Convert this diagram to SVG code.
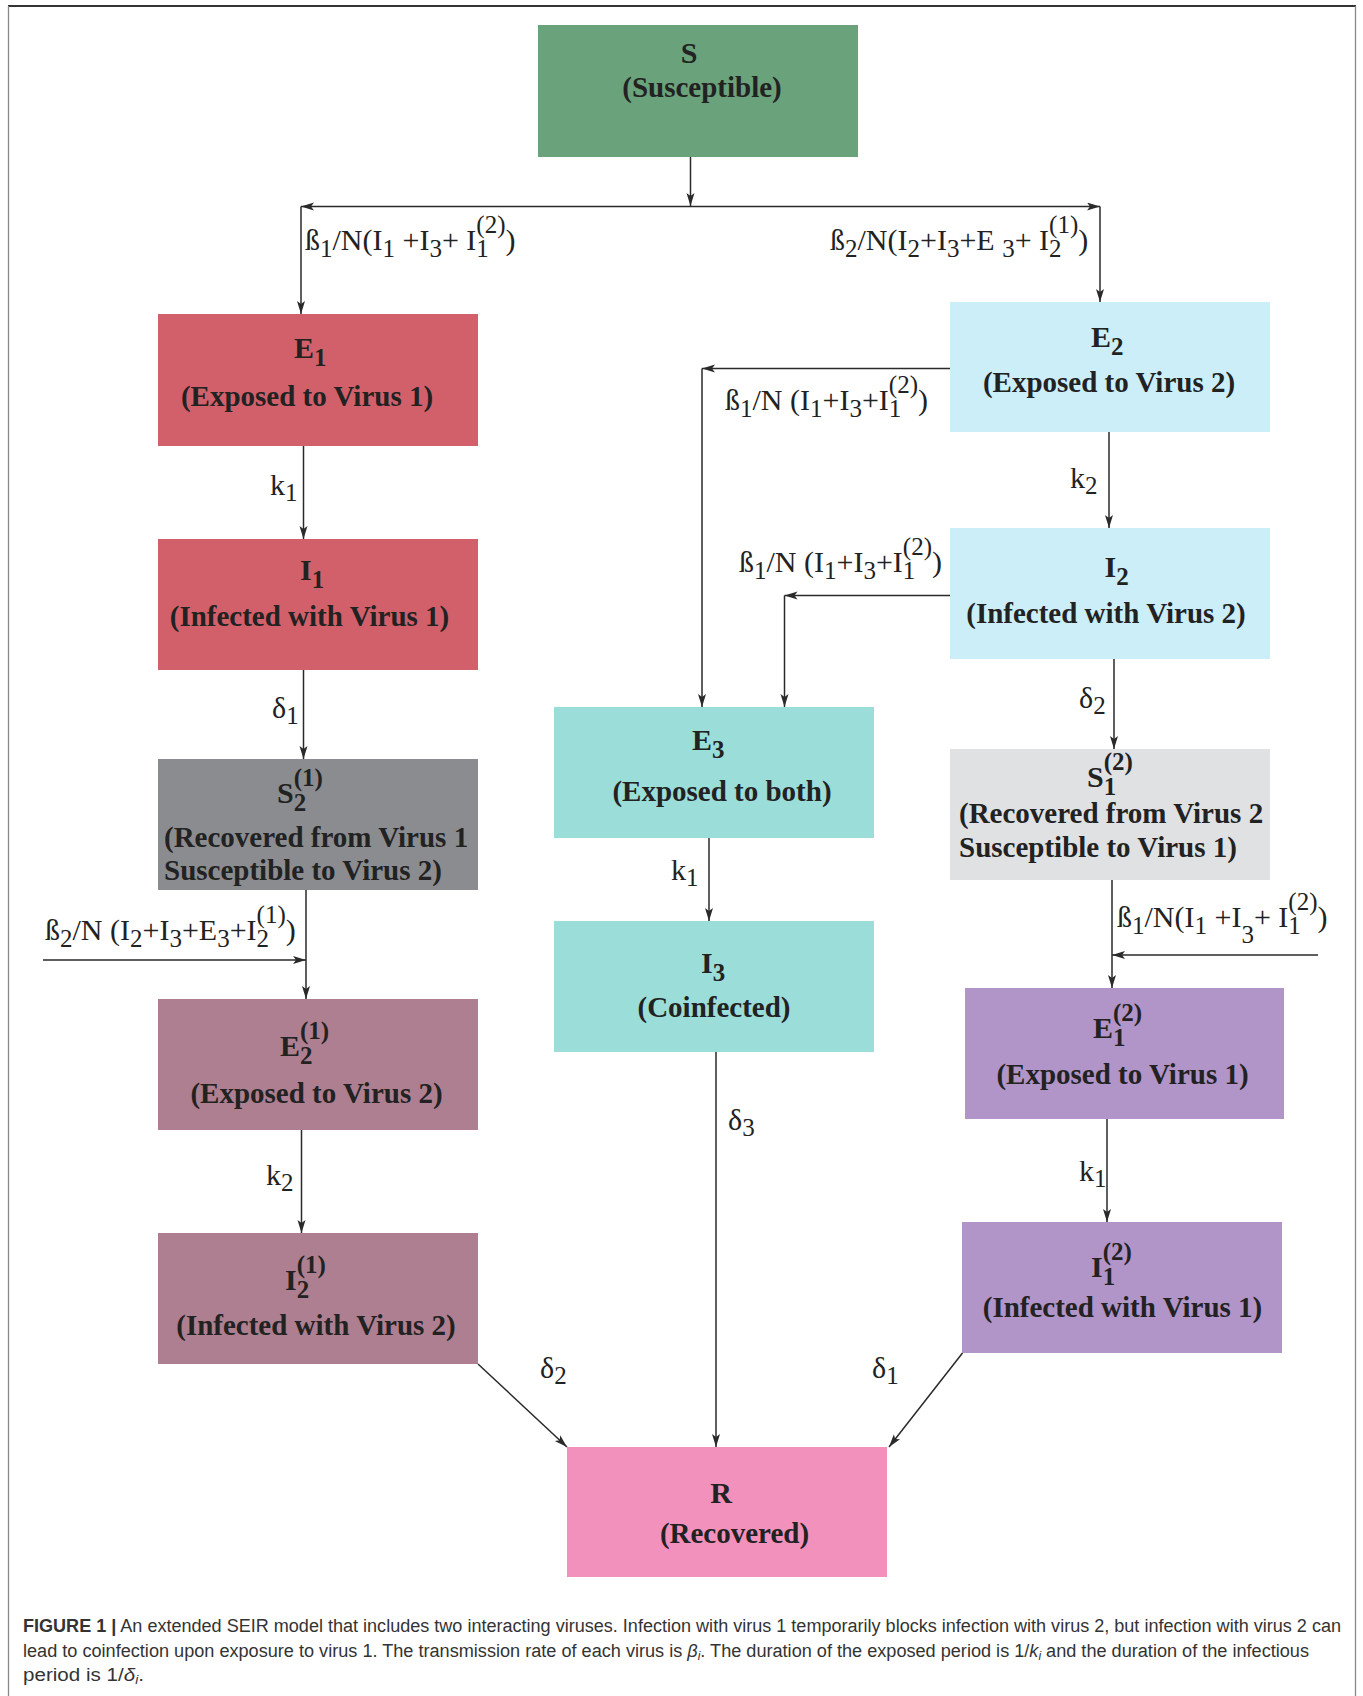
<svg xmlns="http://www.w3.org/2000/svg" width="1363" height="1696" viewBox="0 0 1363 1696">
<defs>
<marker id="ah" markerUnits="userSpaceOnUse" markerWidth="14" markerHeight="10" refX="13" refY="4" orient="auto-start-reverse">
<path d="M0,0 L13,4 L0,8 L3,4 z" fill="#2a2a2a"/>
</marker>
</defs>
<style>
.box{stroke:none}
.nt{font-family:"Liberation Serif","Times New Roman",serif;font-weight:bold;font-size:29px;fill:#222}
.sym{font-size:30px}
.ns{font-size:25px}
.lbl{font-family:"Liberation Serif","Times New Roman",serif;font-size:30px;fill:#222}
.ls{font-size:25px}
.ln{fill:none;stroke:#2a2a2a;stroke-width:1.5}
.cap{font-family:"Liberation Sans",Arial,sans-serif;font-size:18px;fill:#333}
</style>
<rect x="0" y="0" width="1363" height="1696" fill="#ffffff"/>
<g id="frame">
<line x1="8" y1="6" x2="1356" y2="6" stroke="#333" stroke-width="2"/>
<line x1="8.5" y1="6" x2="8.5" y2="1696" stroke="#888" stroke-width="1.3"/>
<line x1="1355.5" y1="6" x2="1355.5" y2="1696" stroke="#888" stroke-width="1.3"/>
</g>

<g id="connectors">
<line class="ln" x1="690.5" y1="157" x2="690.5" y2="206" marker-end="url(#ah)"/>
<line class="ln" x1="301" y1="206.5" x2="1100" y2="206.5" marker-start="url(#ah)" marker-end="url(#ah)"/>
<line class="ln" x1="301" y1="206.5" x2="301" y2="314" marker-end="url(#ah)"/>
<line class="ln" x1="1100" y1="206.5" x2="1100" y2="302" marker-end="url(#ah)"/>
<line class="ln" x1="950" y1="368.5" x2="702" y2="368.5" marker-end="url(#ah)"/>
<line class="ln" x1="702" y1="368.5" x2="702" y2="707" marker-end="url(#ah)"/>
<line class="ln" x1="303.5" y1="446" x2="303.5" y2="539" marker-end="url(#ah)"/>
<line class="ln" x1="1109" y1="432" x2="1109" y2="528" marker-end="url(#ah)"/>
<line class="ln" x1="950" y1="595.5" x2="784.5" y2="595.5" marker-end="url(#ah)"/>
<line class="ln" x1="784.5" y1="595.5" x2="784.5" y2="707" marker-end="url(#ah)"/>
<line class="ln" x1="303.5" y1="670" x2="303.5" y2="759" marker-end="url(#ah)"/>
<line class="ln" x1="1114" y1="659" x2="1114" y2="749" marker-end="url(#ah)"/>
<line class="ln" x1="709" y1="838" x2="709" y2="921" marker-end="url(#ah)"/>
<line class="ln" x1="306" y1="890" x2="306" y2="999" marker-end="url(#ah)"/>
<line class="ln" x1="43" y1="960" x2="306" y2="960" marker-end="url(#ah)"/>
<line class="ln" x1="1112" y1="880" x2="1112" y2="988" marker-end="url(#ah)"/>
<line class="ln" x1="1318" y1="955" x2="1112" y2="955" marker-end="url(#ah)"/>
<line class="ln" x1="301.5" y1="1130" x2="301.5" y2="1233" marker-end="url(#ah)"/>
<line class="ln" x1="1107" y1="1119" x2="1107" y2="1222" marker-end="url(#ah)"/>
<line class="ln" x1="716" y1="1052" x2="716" y2="1447" marker-end="url(#ah)"/>
<line class="ln" x1="478" y1="1364" x2="567" y2="1447" marker-end="url(#ah)"/>
<line class="ln" x1="962.5" y1="1353" x2="889" y2="1447" marker-end="url(#ah)"/>
</g>

<g id="edge-labels">
<text class="lbl" x="305" y="250">ß<tspan class="ls" dy="7">1</tspan><tspan dy="-7">/N(I</tspan><tspan class="ls" dy="7">1</tspan><tspan dy="-7"> +I</tspan><tspan class="ls" dy="7">3</tspan><tspan dy="-7">+ I</tspan><tspan class="ls" dy="7">1</tspan><tspan class="ls" dx="-12.5" dy="-24">(2)</tspan><tspan dy="17">)</tspan></text>
<text class="lbl" x="830" y="250">ß<tspan class="ls" dy="7">2</tspan><tspan dy="-7">/N(I</tspan><tspan class="ls" dy="7">2</tspan><tspan dy="-7">+I</tspan><tspan class="ls" dy="7">3</tspan><tspan dy="-7">+E </tspan><tspan class="ls" dy="7">3</tspan><tspan dy="-7">+ I</tspan><tspan class="ls" dy="7">2</tspan><tspan class="ls" dx="-12.5" dy="-24">(1)</tspan><tspan dy="17">)</tspan></text>
<text class="lbl" x="725" y="410">ß<tspan class="ls" dy="7">1</tspan><tspan dy="-7">/N  (I</tspan><tspan class="ls" dy="7">1</tspan><tspan dy="-7">+I</tspan><tspan class="ls" dy="7">3</tspan><tspan dy="-7">+I</tspan><tspan class="ls" dy="7">1</tspan><tspan class="ls" dx="-12.5" dy="-24">(2)</tspan><tspan dy="17">)</tspan></text>
<text class="lbl" x="739" y="572">ß<tspan class="ls" dy="7">1</tspan><tspan dy="-7">/N (I</tspan><tspan class="ls" dy="7">1</tspan><tspan dy="-7">+I</tspan><tspan class="ls" dy="7">3</tspan><tspan dy="-7">+I</tspan><tspan class="ls" dy="7">1</tspan><tspan class="ls" dx="-12.5" dy="-24">(2)</tspan><tspan dy="17">)</tspan></text>
<text class="lbl" x="45" y="940">ß<tspan class="ls" dy="7">2</tspan><tspan dy="-7">/N (I</tspan><tspan class="ls" dy="7">2</tspan><tspan dy="-7">+I</tspan><tspan class="ls" dy="7">3</tspan><tspan dy="-7">+E</tspan><tspan class="ls" dy="7">3</tspan><tspan dy="-7">+I</tspan><tspan class="ls" dy="7">2</tspan><tspan class="ls" dx="-12.5" dy="-24">(1)</tspan><tspan dy="17">)</tspan></text>
<text class="lbl" x="1117" y="927">ß<tspan class="ls" dy="7">1</tspan><tspan dy="-7">/N(I</tspan><tspan class="ls" dy="7">1</tspan><tspan dy="-7"> +I</tspan><tspan class="ls" dy="16">3</tspan><tspan dy="-16">+ I</tspan><tspan class="ls" dy="7">1</tspan><tspan class="ls" dx="-12.5" dy="-24">(2)</tspan><tspan dy="17">)</tspan></text>
<text class="lbl" x="270" y="495">k<tspan class="ls" dy="6">1</tspan></text>
<text class="lbl" x="1070" y="488">k<tspan class="ls" dy="6">2</tspan></text>
<text class="lbl" x="272" y="718">δ<tspan class="ls" dy="6">1</tspan></text>
<text class="lbl" x="1079" y="708">δ<tspan class="ls" dy="6">2</tspan></text>
<text class="lbl" x="671" y="880">k<tspan class="ls" dy="6">1</tspan></text>
<text class="lbl" x="266" y="1185">k<tspan class="ls" dy="6">2</tspan></text>
<text class="lbl" x="728" y="1130">δ<tspan class="ls" dy="6">3</tspan></text>
<text class="lbl" x="1079" y="1181">k<tspan class="ls" dy="6">1</tspan></text>
<text class="lbl" x="540" y="1378">δ<tspan class="ls" dy="6">2</tspan></text>
<text class="lbl" x="872" y="1378">δ<tspan class="ls" dy="6">1</tspan></text>
</g>

<g id="node-S">
<rect class="box" x="538" y="25" width="320" height="132" fill="#69a27b"/>
<text class="nt sym" x="689" y="63" text-anchor="middle">S</text>
<text class="nt" x="702" y="97" text-anchor="middle">(Susceptible)</text>
</g>
<g id="node-E1">
<rect class="box" x="158" y="314" width="320" height="132" fill="#d2606b"/>
<text class="nt sym" x="294" y="358">E<tspan class="ns" dy="8">1</tspan></text>
<text class="nt" x="307" y="406" text-anchor="middle">(Exposed to Virus 1)</text>
</g>
<g id="node-E2">
<rect class="box" x="950" y="302" width="320" height="130" fill="#cbeef9"/>
<text class="nt sym" x="1091" y="347">E<tspan class="ns" dy="8">2</tspan></text>
<text class="nt" x="1109" y="392" text-anchor="middle">(Exposed to Virus 2)</text>
</g>
<g id="node-I1">
<rect class="box" x="158" y="539" width="320" height="131" fill="#d2606b"/>
<text class="nt sym" x="300" y="580">I<tspan class="ns" dy="8">1</tspan></text>
<text class="nt" x="309.5" y="626" text-anchor="middle">(Infected with Virus 1)</text>
</g>
<g id="node-I2">
<rect class="box" x="950" y="528" width="320" height="131" fill="#cbeef9"/>
<text class="nt sym" x="1104.5" y="577">I<tspan class="ns" dy="8">2</tspan></text>
<text class="nt" x="1106" y="623" text-anchor="middle">(Infected with Virus 2)</text>
</g>
<g id="node-E3">
<rect class="box" x="554" y="707" width="320" height="131" fill="#9bddd9"/>
<text class="nt sym" x="692" y="750">E<tspan class="ns" dy="8">3</tspan></text>
<text class="nt" x="722" y="801" text-anchor="middle">(Exposed to both)</text>
</g>
<g id="node-S2-1">
<rect class="box" x="158" y="759" width="320" height="131" fill="#8b8c90"/>
<text class="nt sym" x="277" y="803">S<tspan class="ns" dy="8">2</tspan><tspan class="ns" dx="-12.5" dy="-25">(1)</tspan></text>
<text class="nt" x="164" y="847">(Recovered from Virus 1</text>
<text class="nt" x="164" y="880">Susceptible to Virus 2)</text>
</g>
<g id="node-S1-2">
<rect class="box" x="950" y="749" width="320" height="131" fill="#e0e1e3"/>
<text class="nt sym" x="1087" y="787">S<tspan class="ns" dy="8">1</tspan><tspan class="ns" dx="-12.5" dy="-25">(2)</tspan></text>
<text class="nt" x="959" y="823">(Recovered from Virus 2</text>
<text class="nt" x="959" y="857">Susceptible to Virus 1)</text>
</g>
<g id="node-I3">
<rect class="box" x="554" y="921" width="320" height="131" fill="#9bddd9"/>
<text class="nt sym" x="701" y="973">I<tspan class="ns" dy="8">3</tspan></text>
<text class="nt" x="714" y="1017" text-anchor="middle">(Coinfected)</text>
</g>
<g id="node-E2-1">
<rect class="box" x="158" y="999" width="320" height="131" fill="#ae7f90"/>
<text class="nt sym" x="280" y="1056">E<tspan class="ns" dy="8">2</tspan><tspan class="ns" dx="-12.5" dy="-25">(1)</tspan></text>
<text class="nt" x="316.5" y="1103" text-anchor="middle">(Exposed to Virus 2)</text>
</g>
<g id="node-E1-2">
<rect class="box" x="965" y="988" width="319" height="131" fill="#b194c8"/>
<text class="nt sym" x="1093" y="1038">E<tspan class="ns" dy="8">1</tspan><tspan class="ns" dx="-12.5" dy="-25">(2)</tspan></text>
<text class="nt" x="1122.5" y="1084" text-anchor="middle">(Exposed to Virus 1)</text>
</g>
<g id="node-I2-1">
<rect class="box" x="158" y="1233" width="320" height="131" fill="#ae7f90"/>
<text class="nt sym" x="285" y="1290">I<tspan class="ns" dy="8">2</tspan><tspan class="ns" dx="-12.5" dy="-25">(1)</tspan></text>
<text class="nt" x="316" y="1335" text-anchor="middle">(Infected with Virus 2)</text>
</g>
<g id="node-I1-2">
<rect class="box" x="962" y="1222" width="320" height="131" fill="#b194c8"/>
<text class="nt sym" x="1091" y="1277">I<tspan class="ns" dy="8">1</tspan><tspan class="ns" dx="-12.5" dy="-25">(2)</tspan></text>
<text class="nt" x="1122.5" y="1317" text-anchor="middle">(Infected with Virus 1)</text>
</g>
<g id="node-R">
<rect class="box" x="567" y="1447" width="320" height="130" fill="#f391bd"/>
<text class="nt sym" x="721" y="1503" text-anchor="middle">R</text>
<text class="nt" x="734.5" y="1543" text-anchor="middle">(Recovered)</text>
</g>

<g id="caption">
<text class="cap" x="23" y="1632" textLength="1318" lengthAdjust="spacingAndGlyphs"><tspan font-weight="bold">FIGURE 1 |</tspan> An extended SEIR model that includes two interacting viruses. Infection with virus 1 temporarily blocks infection with virus 2, but infection with virus 2 can</text>
<text class="cap" x="23" y="1657" textLength="1286" lengthAdjust="spacingAndGlyphs">lead to coinfection upon exposure to virus 1. The transmission rate of each virus is <tspan font-style="italic">β<tspan font-size="12" dy="3">i</tspan></tspan><tspan dy="-3">. The duration of the exposed period is 1/</tspan><tspan font-style="italic">k<tspan font-size="12" dy="3">i</tspan></tspan><tspan dy="-3"> and the duration of the infectious</tspan></text>
<text class="cap" x="23" y="1681" textLength="121" lengthAdjust="spacingAndGlyphs">period is 1/<tspan font-style="italic">δ<tspan font-size="12" dy="3">i</tspan></tspan><tspan dy="-3">.</tspan></text>
</g>
</svg>
